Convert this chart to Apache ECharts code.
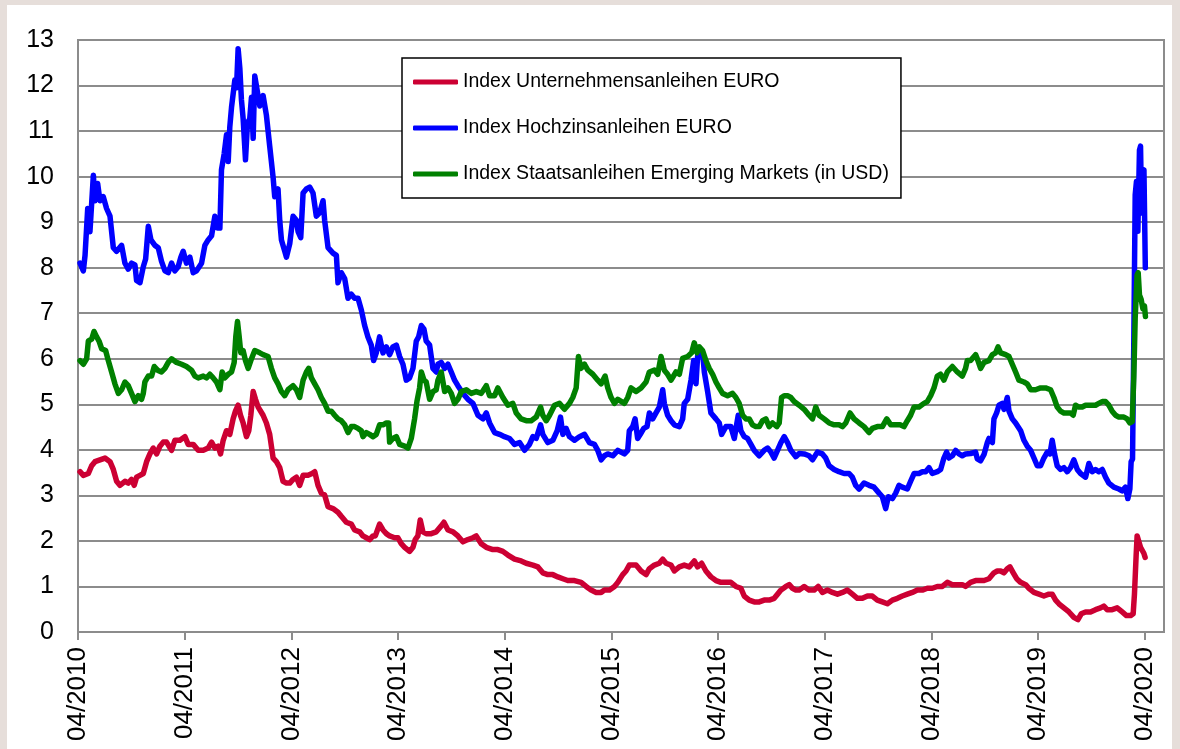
<!DOCTYPE html>
<html>
<head>
<meta charset="utf-8">
<script src="https://cdn.jsdelivr.net/npm/echarts@6/dist/echarts.min.js"></script>
<style>
html,body{margin:0;padding:0;background:#e6deda;}
#chart{width:1180px;height:749px;}
</style>
</head>
<body>
<div id="chart"></div>
<script>
// x = years since 04/2010, y = index value
const tickLabels = ["04/2010","04/2011","04/2012","04/2013","04/2014","04/2015","04/2016","04/2017","04/2018","04/2019","04/2020"];
const seriesNames = ["Index Unternehmensanleihen EURO","Index Hochzinsanleihen EURO","Index Staatsanleihen Emerging Markets (in USD)"];

const redData = [
[0.019,3.52],[0.050,3.44],[0.097,3.48],[0.128,3.65],[0.159,3.74],[0.206,3.78],[0.253,3.82],[0.300,3.74],[0.331,3.57],[0.362,3.31],
[0.393,3.22],[0.440,3.31],[0.471,3.27],[0.502,3.35],[0.527,3.22],[0.549,3.40],[0.581,3.44],[0.612,3.48],[0.643,3.74],[0.674,3.91],
[0.705,4.04],[0.737,3.91],[0.768,4.08],[0.799,4.17],[0.830,4.17],[0.877,3.99],[0.908,4.21],[0.955,4.21],[1.002,4.29],[1.033,4.12],
[1.080,4.12],[1.127,3.99],[1.174,3.99],[1.220,4.04],[1.252,4.17],[1.283,4.04],[1.314,4.08],[1.336,3.91],[1.361,4.21],[1.392,4.42],
[1.423,4.34],[1.454,4.68],[1.476,4.85],[1.501,4.98],[1.523,4.76],[1.548,4.59],[1.579,4.29],[1.601,4.42],[1.620,4.76],[1.642,5.28],
[1.664,5.11],[1.689,4.94],[1.704,4.94],[1.735,4.76],[1.766,4.59],[1.797,4.34],[1.829,3.82],[1.860,3.74],[1.891,3.61],[1.922,3.31],
[1.954,3.27],[1.985,3.27],[2.016,3.35],[2.047,3.40],[2.078,3.22],[2.110,3.44],[2.156,3.44],[2.194,3.48],[2.219,3.52],[2.250,3.22],
[2.281,3.05],[2.312,3.01],[2.344,2.75],[2.390,2.71],[2.437,2.63],[2.468,2.54],[2.515,2.41],[2.562,2.37],[2.593,2.24],[2.640,2.20],
[2.671,2.11],[2.703,2.07],[2.734,2.03],[2.765,2.11],[2.787,2.11],[2.827,2.37],[2.859,2.24],[2.890,2.16],[2.921,2.11],[2.968,2.07],
[2.999,2.07],[3.030,1.94],[3.062,1.86],[3.108,1.77],[3.140,1.86],[3.161,2.03],[3.186,2.11],[3.208,2.46],[3.233,2.20],[3.264,2.16],
[3.311,2.16],[3.358,2.20],[3.405,2.33],[3.430,2.41],[3.468,2.24],[3.515,2.20],[3.561,2.11],[3.608,1.98],[3.655,2.03],[3.702,2.07],
[3.733,2.11],[3.780,1.94],[3.827,1.86],[3.889,1.81],[3.936,1.81],[3.983,1.77],[4.030,1.69],[4.092,1.60],[4.154,1.56],[4.201,1.51],
[4.264,1.47],[4.311,1.43],[4.357,1.30],[4.404,1.26],[4.451,1.26],[4.498,1.21],[4.545,1.17],[4.591,1.13],[4.654,1.13],[4.716,1.09],
[4.763,1.00],[4.810,0.92],[4.857,0.87],[4.904,0.87],[4.935,0.92],[4.982,0.92],[5.029,1.00],[5.060,1.09],[5.106,1.26],[5.137,1.34],
[5.168,1.47],[5.200,1.47],[5.231,1.47],[5.278,1.34],[5.325,1.26],[5.356,1.39],[5.403,1.47],[5.449,1.51],[5.481,1.60],[5.512,1.51],
[5.559,1.47],[5.590,1.34],[5.637,1.43],[5.683,1.47],[5.730,1.43],[5.777,1.56],[5.808,1.43],[5.846,1.51],[5.886,1.34],[5.933,1.21],
[5.980,1.13],[6.027,1.09],[6.074,1.09],[6.120,1.09],[6.167,1.00],[6.214,0.96],[6.245,0.79],[6.292,0.70],[6.339,0.66],[6.386,0.66],
[6.432,0.70],[6.479,0.70],[6.526,0.74],[6.557,0.83],[6.589,0.92],[6.636,1.00],[6.667,1.04],[6.698,0.96],[6.729,0.92],[6.760,0.92],
[6.807,1.00],[6.853,0.92],[6.900,0.92],[6.938,1.00],[6.978,0.87],[7.025,0.92],[7.072,0.87],[7.119,0.83],[7.166,0.87],[7.212,0.92],
[7.259,0.83],[7.306,0.74],[7.353,0.74],[7.400,0.79],[7.446,0.79],[7.493,0.70],[7.540,0.66],[7.587,0.62],[7.634,0.70],[7.681,0.74],
[7.727,0.79],[7.774,0.83],[7.821,0.87],[7.868,0.92],[7.915,0.92],[7.961,0.96],[8.008,0.96],[8.055,1.00],[8.102,1.00],[8.149,1.09],
[8.196,1.04],[8.242,1.04],[8.289,1.04],[8.320,1.00],[8.367,1.09],[8.414,1.13],[8.446,1.13],[8.493,1.13],[8.539,1.17],[8.586,1.30],
[8.617,1.34],[8.649,1.34],[8.680,1.30],[8.711,1.39],[8.736,1.43],[8.767,1.30],[8.799,1.17],[8.836,1.09],[8.883,1.04],[8.914,0.96],
[8.961,0.87],[9.008,0.83],[9.054,0.79],[9.101,0.83],[9.132,0.83],[9.164,0.70],[9.195,0.62],[9.242,0.53],[9.289,0.44],[9.335,0.32],
[9.373,0.27],[9.404,0.40],[9.445,0.44],[9.491,0.44],[9.538,0.49],[9.585,0.53],[9.616,0.57],[9.647,0.49],[9.694,0.49],[9.741,0.53],
[9.788,0.44],[9.828,0.36],[9.866,0.36],[9.891,0.40],[9.903,0.83],[9.919,1.69],[9.928,2.11],[9.944,2.07],[9.960,1.86],[9.975,1.90],
[9.991,1.73],[10.003,1.64]
];

const blueData = [
[0.019,8.10],[0.050,7.93],[0.066,8.27],[0.091,9.30],[0.112,8.79],[0.144,10.03],[0.159,9.47],[0.184,9.85],[0.206,9.47],[0.237,9.56],
[0.268,9.30],[0.300,9.13],[0.331,8.44],[0.362,8.36],[0.409,8.49],[0.440,8.10],[0.471,7.97],[0.502,8.10],[0.534,8.06],[0.549,7.72],
[0.581,7.67],[0.612,8.02],[0.634,8.19],[0.659,8.91],[0.684,8.61],[0.721,8.49],[0.752,8.44],[0.783,8.14],[0.815,7.93],[0.846,7.89],
[0.877,8.10],[0.908,7.93],[0.939,8.02],[0.964,8.23],[0.986,8.36],[1.017,8.10],[1.049,8.23],[1.080,7.89],[1.111,7.93],[1.158,8.10],
[1.189,8.49],[1.220,8.61],[1.252,8.70],[1.283,9.13],[1.308,8.87],[1.330,8.87],[1.345,10.15],[1.370,10.50],[1.392,10.92],[1.408,10.33],
[1.423,11.09],[1.439,11.52],[1.470,12.12],[1.486,11.95],[1.501,12.81],[1.517,12.38],[1.532,11.69],[1.548,11.27],[1.570,10.37],[1.589,11.18],
[1.610,11.27],[1.626,11.74],[1.642,10.84],[1.657,12.21],[1.682,11.86],[1.704,11.55],[1.735,11.78],[1.766,11.35],[1.797,10.67],[1.829,9.98],
[1.844,9.56],[1.875,9.73],[1.891,9.04],[1.907,8.61],[1.938,8.36],[1.954,8.23],[1.985,8.53],[2.016,9.13],[2.047,9.04],[2.063,8.79],
[2.088,8.66],[2.110,9.64],[2.141,9.73],[2.172,9.77],[2.203,9.64],[2.234,9.13],[2.266,9.21],[2.297,9.47],[2.312,9.04],[2.344,8.44],
[2.390,8.32],[2.422,8.27],[2.437,7.67],[2.468,7.89],[2.500,7.76],[2.531,7.33],[2.562,7.42],[2.593,7.33],[2.625,7.33],[2.656,7.07],
[2.687,6.73],[2.718,6.48],[2.749,6.30],[2.771,5.96],[2.796,6.13],[2.827,6.48],[2.859,6.13],[2.890,6.26],[2.921,6.09],[2.952,6.26],
[2.984,6.30],[3.015,6.05],[3.046,5.88],[3.077,5.53],[3.108,5.58],[3.140,5.79],[3.171,6.39],[3.193,6.48],[3.218,6.73],[3.243,6.65],
[3.264,6.39],[3.296,6.30],[3.327,5.79],[3.358,5.71],[3.374,5.88],[3.405,5.92],[3.437,5.79],[3.468,5.88],[3.499,5.71],[3.530,5.53],
[3.561,5.41],[3.608,5.24],[3.655,5.11],[3.702,5.02],[3.749,4.76],[3.796,4.68],[3.827,4.81],[3.858,4.59],[3.905,4.38],[3.952,4.34],
[3.998,4.29],[4.045,4.25],[4.092,4.12],[4.139,4.16],[4.186,3.99],[4.232,4.12],[4.264,4.29],[4.295,4.25],[4.336,4.55],[4.357,4.34],
[4.404,4.16],[4.451,4.21],[4.492,4.42],[4.523,4.72],[4.545,4.34],[4.576,4.47],[4.607,4.29],[4.654,4.21],[4.701,4.29],[4.748,4.34],
[4.794,4.16],[4.841,4.12],[4.872,3.99],[4.904,3.78],[4.935,3.87],[4.966,3.91],[5.013,3.87],[5.060,3.99],[5.090,3.95],[5.122,3.91],
[5.153,3.99],[5.168,4.42],[5.200,4.51],[5.222,4.68],[5.246,4.25],[5.271,4.34],[5.303,4.47],[5.334,4.51],[5.356,4.81],[5.387,4.68],
[5.418,4.81],[5.449,4.94],[5.481,5.32],[5.496,5.02],[5.527,4.76],[5.559,4.64],[5.590,4.55],[5.637,4.51],[5.668,4.68],[5.683,5.02],
[5.715,5.11],[5.746,5.53],[5.771,5.96],[5.793,5.45],[5.808,6.05],[5.833,6.22],[5.855,6.13],[5.871,5.71],[5.902,5.28],[5.933,4.81],
[5.980,4.68],[6.011,4.59],[6.033,4.34],[6.074,4.51],[6.120,4.51],[6.152,4.25],[6.189,4.76],[6.214,4.42],[6.245,4.29],[6.276,4.25],
[6.308,4.12],[6.339,3.99],[6.386,3.87],[6.432,3.99],[6.464,4.04],[6.495,3.95],[6.526,3.82],[6.557,3.99],[6.589,4.16],[6.620,4.29],
[6.651,4.16],[6.682,3.99],[6.729,3.85],[6.760,3.92],[6.807,3.91],[6.853,3.87],[6.885,3.78],[6.931,3.95],[6.978,3.91],[7.009,3.82],
[7.041,3.65],[7.088,3.57],[7.134,3.52],[7.181,3.48],[7.228,3.48],[7.259,3.40],[7.290,3.22],[7.322,3.14],[7.368,3.27],[7.415,3.22],
[7.462,3.18],[7.509,3.05],[7.540,2.97],[7.571,2.71],[7.596,2.97],[7.634,2.93],[7.665,3.05],[7.696,3.22],[7.727,3.18],[7.774,3.14],
[7.805,3.31],[7.837,3.48],[7.883,3.48],[7.915,3.52],[7.946,3.52],[7.977,3.61],[8.008,3.48],[8.055,3.52],[8.086,3.57],[8.117,3.82],
[8.142,3.95],[8.164,3.82],[8.196,3.87],[8.227,3.99],[8.258,3.91],[8.289,3.87],[8.320,3.91],[8.367,3.92],[8.414,3.95],[8.430,3.80],
[8.461,3.76],[8.493,3.90],[8.524,4.16],[8.539,4.25],[8.571,4.16],[8.586,4.68],[8.611,4.81],[8.633,4.98],[8.664,5.02],[8.680,4.89],
[8.711,5.15],[8.727,4.85],[8.758,4.68],[8.789,4.59],[8.836,4.42],[8.867,4.21],[8.898,4.08],[8.930,3.99],[8.961,3.82],[8.992,3.65],
[9.023,3.65],[9.054,3.82],[9.086,3.95],[9.111,3.91],[9.132,4.21],[9.154,3.91],[9.179,3.65],[9.210,3.57],[9.242,3.61],[9.273,3.52],
[9.304,3.61],[9.335,3.78],[9.367,3.57],[9.398,3.48],[9.445,3.40],[9.476,3.70],[9.507,3.52],[9.538,3.57],[9.569,3.52],[9.601,3.57],
[9.632,3.40],[9.663,3.27],[9.710,3.18],[9.757,3.14],[9.788,3.10],[9.819,3.18],[9.841,2.93],[9.860,3.14],[9.872,3.74],[9.885,3.80],
[9.897,6.40],[9.910,9.60],[9.922,9.90],[9.935,8.80],[9.950,10.58],[9.960,10.67],[9.970,9.20],[9.982,10.07],[9.992,10.15],[10.005,8.00]
];

const greenData = [
[0.019,5.96],[0.050,5.88],[0.081,6.00],[0.097,6.39],[0.128,6.43],[0.150,6.60],[0.175,6.48],[0.197,6.39],[0.222,6.22],[0.259,6.18],
[0.284,5.96],[0.315,5.71],[0.346,5.45],[0.378,5.24],[0.409,5.32],[0.440,5.49],[0.471,5.41],[0.502,5.24],[0.534,5.06],[0.565,5.19],
[0.596,5.11],[0.612,5.24],[0.627,5.49],[0.659,5.62],[0.690,5.62],[0.715,5.83],[0.746,5.75],[0.783,5.71],[0.815,5.79],[0.846,5.92],
[0.877,6.00],[0.924,5.92],[0.971,5.88],[1.017,5.83],[1.064,5.75],[1.096,5.62],[1.127,5.58],[1.174,5.62],[1.205,5.58],[1.236,5.66],
[1.267,5.58],[1.298,5.49],[1.330,5.32],[1.351,5.71],[1.376,5.58],[1.408,5.66],[1.439,5.71],[1.464,5.92],[1.479,6.48],[1.495,6.82],
[1.511,6.48],[1.526,6.13],[1.548,6.18],[1.570,5.96],[1.595,5.79],[1.620,5.96],[1.657,6.18],[1.704,6.13],[1.735,6.09],[1.782,6.05],
[1.813,5.79],[1.844,5.58],[1.875,5.45],[1.907,5.28],[1.938,5.19],[1.969,5.32],[2.016,5.41],[2.047,5.32],[2.078,5.15],[2.110,5.53],
[2.141,5.71],[2.163,5.79],[2.188,5.58],[2.219,5.45],[2.250,5.32],[2.281,5.15],[2.312,5.02],[2.344,4.85],[2.375,4.85],[2.406,4.76],
[2.437,4.68],[2.468,4.64],[2.500,4.55],[2.531,4.38],[2.562,4.51],[2.593,4.51],[2.625,4.47],[2.656,4.42],[2.671,4.29],[2.703,4.38],
[2.734,4.34],[2.765,4.29],[2.796,4.34],[2.827,4.55],[2.859,4.55],[2.890,4.59],[2.912,4.59],[2.921,4.17],[2.952,4.25],[2.984,4.29],
[3.015,4.12],[3.062,4.08],[3.093,4.04],[3.124,4.25],[3.155,4.68],[3.177,5.06],[3.202,5.36],[3.218,5.71],[3.243,5.53],[3.264,5.49],
[3.296,5.11],[3.327,5.28],[3.358,5.32],[3.374,5.53],[3.405,5.71],[3.437,5.28],[3.468,5.36],[3.499,5.24],[3.530,5.02],[3.561,5.11],
[3.593,5.28],[3.640,5.32],[3.686,5.24],[3.733,5.28],[3.780,5.24],[3.827,5.41],[3.858,5.19],[3.905,5.19],[3.936,5.36],[3.983,5.15],
[4.030,4.98],[4.076,5.02],[4.108,4.81],[4.154,4.68],[4.201,4.64],[4.248,4.64],[4.295,4.72],[4.336,4.94],[4.357,4.76],[4.389,4.64],
[4.420,4.76],[4.467,4.98],[4.513,5.02],[4.560,4.89],[4.607,5.02],[4.638,5.15],[4.670,5.36],[4.691,6.05],[4.716,5.79],[4.748,5.88],
[4.779,5.75],[4.826,5.66],[4.872,5.53],[4.904,5.45],[4.941,5.62],[4.966,5.36],[4.997,5.15],[5.029,5.02],[5.060,5.11],[5.122,5.02],
[5.153,5.15],[5.184,5.36],[5.231,5.28],[5.278,5.36],[5.325,5.49],[5.356,5.71],[5.403,5.75],[5.434,5.66],[5.465,6.05],[5.496,5.75],
[5.527,5.66],[5.559,5.53],[5.605,5.71],[5.637,5.66],[5.668,6.01],[5.715,6.05],[5.752,6.13],[5.777,6.35],[5.802,6.13],[5.824,6.26],
[5.855,6.18],[5.886,5.96],[5.917,5.79],[5.949,5.66],[5.980,5.49],[6.011,5.36],[6.042,5.24],[6.089,5.19],[6.136,5.24],[6.167,5.15],
[6.198,5.02],[6.230,4.76],[6.261,4.68],[6.292,4.68],[6.323,4.55],[6.354,4.51],[6.386,4.51],[6.417,4.64],[6.448,4.68],[6.479,4.51],
[6.511,4.59],[6.551,4.51],[6.573,4.59],[6.595,5.15],[6.620,5.19],[6.651,5.19],[6.682,5.15],[6.713,5.06],[6.760,4.98],[6.807,4.89],
[6.853,4.76],[6.885,4.68],[6.916,4.94],[6.947,4.76],[6.994,4.68],[7.041,4.59],[7.088,4.55],[7.134,4.55],[7.166,4.51],[7.197,4.59],
[7.237,4.81],[7.275,4.68],[7.322,4.59],[7.368,4.51],[7.415,4.38],[7.446,4.47],[7.493,4.51],[7.540,4.51],[7.581,4.68],[7.618,4.55],
[7.665,4.55],[7.706,4.55],[7.743,4.51],[7.774,4.64],[7.805,4.76],[7.837,4.94],[7.883,4.94],[7.930,5.02],[7.961,5.06],[7.993,5.19],
[8.024,5.36],[8.055,5.62],[8.086,5.66],[8.117,5.53],[8.149,5.71],[8.196,5.83],[8.242,5.71],[8.289,5.62],[8.320,5.79],[8.336,5.96],
[8.367,5.96],[8.414,6.09],[8.430,6.00],[8.461,5.79],[8.493,5.92],[8.539,5.96],[8.571,6.09],[8.602,6.13],[8.624,6.26],[8.649,6.13],
[8.696,6.09],[8.727,6.05],[8.758,5.88],[8.789,5.71],[8.820,5.53],[8.867,5.49],[8.898,5.45],[8.930,5.32],[8.976,5.32],[9.023,5.36],
[9.070,5.36],[9.117,5.32],[9.148,5.15],[9.179,4.94],[9.210,4.85],[9.242,4.81],[9.273,4.81],[9.304,4.81],[9.329,4.76],[9.351,4.98],
[9.382,4.94],[9.413,4.94],[9.445,4.98],[9.476,4.98],[9.507,4.98],[9.538,4.98],[9.569,5.02],[9.601,5.06],[9.632,5.06],[9.663,4.98],
[9.694,4.85],[9.726,4.76],[9.757,4.72],[9.804,4.72],[9.835,4.68],[9.860,4.59],[9.882,4.62],[9.897,5.60],[9.910,6.90],[9.928,7.84],
[9.938,7.89],[9.950,7.40],[9.966,7.30],[9.982,7.10],[9.997,7.16],[10.006,6.93]
];

const lineColors = ["#cc0033", "#0000ff", "#008000"];
const FONT = "'Liberation Sans', Arial, sans-serif";

const chart = echarts.init(document.getElementById('chart'), null, {renderer: 'canvas'});
const tickValues = tickLabels.map((_, i) => i);
const allData = [redData, blueData, greenData];

chart.setOption({
  backgroundColor: '#e6deda',
  animation: false,
  graphic: [{
    type: 'rect', z: -10, silent: true,
    shape: {x: 7, y: 5, width: 1165, height: 760},
    style: {fill: '#ffffff'}
  }],
  grid: {
    left: 78, top: 40, right: 16, bottom: 117,
    show: true, borderColor: '#8c8c8c', borderWidth: 2, backgroundColor: '#ffffff'
  },
  legend: {
    orient: 'vertical',
    left: 402, top: 58,
    padding: [14, 12, 14, 11],
    itemGap: 26,
    itemWidth: 45, itemHeight: 5,
    icon: 'roundRect',
    backgroundColor: '#ffffff',
    borderColor: '#000000', borderWidth: 1.5,
    textStyle: {fontFamily: FONT, fontSize: 19.5, color: '#000'},
    data: seriesNames
  },
  xAxis: {
    type: 'value', min: 0, max: 10.18, interval: 1,
    axisLine: {show: true, lineStyle: {color: '#8c8c8c', width: 2}},
    axisTick: {show: true, length: 8, lineStyle: {color: '#8c8c8c', width: 2}, customValues: tickValues},
    splitLine: {show: false},
    axisLabel: {
      rotate: 90, margin: 15, fontFamily: FONT, fontSize: 26, color: '#000',
      customValues: tickValues,
      formatter: v => tickLabels[Math.round(v)] || ''
    }
  },
  yAxis: {
    type: 'value', min: 0, max: 13, interval: 1,
    axisLine: {show: true, lineStyle: {color: '#8c8c8c', width: 2}},
    axisTick: {show: false},
    splitLine: {show: true, lineStyle: {color: '#8c8c8c', width: 2}},
    axisLabel: {margin: 24, fontFamily: FONT, fontSize: 25, color: '#000'}
  },
  series: seriesNames.map((name, i) => ({
    name: name,
    type: 'line',
    data: allData[i],
    showSymbol: false,
    symbol: 'none',
    color: lineColors[i],
    lineStyle: {color: lineColors[i], width: 5.5, join: 'round', cap: 'round'},
    z: 3 + i
  }))
});
</script>
</body>
</html>
